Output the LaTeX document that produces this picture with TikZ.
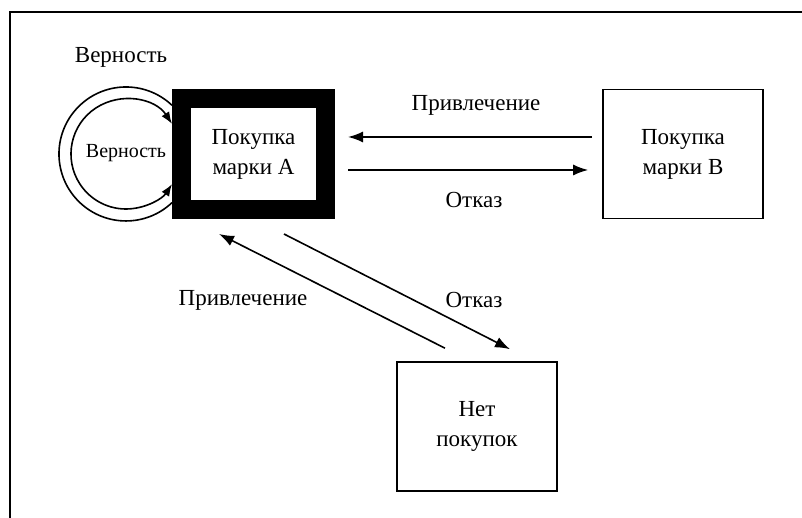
\documentclass[tikz,border=0pt]{standalone}
\usepackage{fontspec}
\setmainfont{Liberation Serif}
\usetikzlibrary{arrows.meta}

\begin{document}
\begin{tikzpicture}[x=1pt,y=1pt,line width=1.6pt,
    box/.style={draw,minimum width=160,minimum height=129,align=center,font=\fontsize{23}{30}\selectfont},
    lbl/.style={font=\fontsize{23}{28}\selectfont},
    arr/.style={-{Latex[length=15pt,width=11pt]}}]
  \useasboundingbox (0,0) rectangle (802,518);
  \draw (10,0) -- (10,506) -- (802,506);% frame
  \node[box,line width=19pt,minimum width=144,minimum height=111] (brandA) at (253.5,364) {Покупка\\марки А};
  \node[box] (brandB) at (683,364) {Покупка\\марки В};
  \node[box] (nobuy) at (477,91.5) {Нет\\покупок};
  % loyalty loop
  \draw ([yshift=48.7]brandA.west) arc[start angle=46.6,end angle=313.4,radius=67];
  \draw[{Latex[length=12pt,width=9pt]}-{Latex[length=12pt,width=9pt]}] ([yshift=30.1]brandA.west)
    arc[start angle=33.2,end angle=326.8,radius=55];
  \node[lbl,font=\fontsize{20}{24}\selectfont] (loyalin) at (126,365) {Верность};
  \node[lbl] (loyal) at (121,461) {Верность};
  % switching
  \draw[arr] ([shift={(-10,17)}]brandB.west) -- ([shift={(13,17)}]brandA.east);
  \draw[arr] ([shift={(13,-16)}]brandA.east) -- ([shift={(-14,-16)}]brandB.west);
  \draw[arr] ([shift={(-32,13)}]nobuy.north) -- ([shift={(-34.5,-15)}]brandA.south);
  \draw[arr] ([shift={(30.5,-15)}]brandA.south) -- ([shift={(33,12)}]nobuy.north);
  \node[lbl] (attrB) at (476,413) {Привлечение};
  \node[lbl] (lossB) at (474,318) {Отказ};
  \node[lbl] (attrN) at (243,218) {Привлечение};
  \node[lbl] (lossN) at (474,218) {Отказ};
\end{tikzpicture}
\end{document}
